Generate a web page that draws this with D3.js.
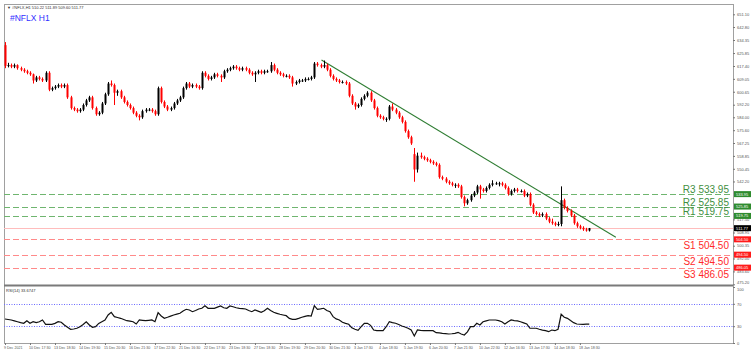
<!DOCTYPE html>
<html><head><meta charset="utf-8">
<script src="https://cdn.jsdelivr.net/npm/d3@7"></script>
<style>body{margin:0;background:#fff}svg{display:block;font-family:"Liberation Sans",Arial,sans-serif}</style>
</head><body><svg id="c" width="755" height="356"></svg>
<script>
const opens=[631,617.5,618,617,618,616,615,614,613,612,608,610,609,608,613,602,603,604,605,604,605,597,590,589,588,589,592,595,597,590,586,587,593,599,606,605,600,601,597,594,592,590,587,585,584,588,589,589,588,586,603,594,591,589,590,593,595,597,603,606,604,605,604,603,613,611,609,610,612,611,610,614,615,616,617,616,615,616,615,613,612,613,614,613,614,614,618,615,613,612,611,611,610,606,607,608,608,609,609,610,619,618,617,618,615,611,609,608,607,607,606,598,593,591,592,596,598,600,595,590,585,584,583,583,591,589,587,584,581,575,571,560,550,559,558,557,556,555,554,553,545,544,542,541,540,540,539,532,528,530,533,535,539,537,536,538,540,541,541,541,540,538,534,536,537,536,536,533,534,527,522,521,520,521,518,516,515,514,514.5,530,525,523,520,515,513,512,511,510.22];
const highs=[633,619.5,619,619,618.5,617,616,615,614,612.5,611,611,610,614,614,604,605,606,606,606,606,598,591,590,590,593,596,598,598,591,588,594,600,607,608,606,602,602,598,595,593,591,588,586,589,590,590,590,589,604,604,595,592,591,594,596,598,604,607,607,606,606,605,614,614,612,611,613,613,612,615,616,617,618,618,617,617,617,616,614,614,615,615,615,615,620,619,616,614,613,612,612,611,608,609,609,610,610,611,620,620,619,621,619,616,612,610,609,608,608,607,599,594,593,597,599,601,601,596,591,586,585,584,592,593,590,588,585,582,576,572,564,561,561,559,558,557,556,555,554,546,545,543,542,541,541,540,533,531,534,536,540,540,538,539,541,543,542,542,542,541,539,537,538,538,537,537,535,535,528,523,522,522,522,519,518,516,516,539,531,526,524,521,516,514,513,512,511.89];
const lows=[616,616.5,616,616,615,614,613,612,611,606,607,608,607,607,601,601,602,603,603,603,596,589,588,587,587,588,591,594,589,585,585,586,592,598,604,592,598,596,593,591,589,586,584,582,583,587,588,587,585,585,593,590,588,588,589,592,594,596,602,603,603,603,602,602,610,608,608,609,610,607,609,613,614,615,615,614,614,614,612,611,607,612,612,612,613,613,614,612,611,610,610,609,604,605,606,607,607,608,608,609,617,616,616,614,610,608,607,606,606,605,597,592,589,590,591,595,597,594,589,584,583,582,581,582,588,586,583,580,574,570,566,542,548,557,556,555,554,553,552,544,543,541,540,539,538,538,531,526,527,529,532,534,531,535,535,537,539,540,539,539,537,533,533,535,535,535,532,532,526,521,520,519,519,517,515,514,513,513,513,524,522,519,514,512,511,510,509.5,509.6];
const closes=[617.5,618,617,618,616,615,614,613,612,608,610,609,608,613,602,603,604,605,604,605,597,590,589,588,589,592,595,597,590,586,587,593,599,606,605,600,601,597,594,592,590,587,585,584,588,589,589,588,586,603,594,591,589,590,593,595,597,603,606,604,605,604,603,613,611,609,610,612,611,610,614,615,616,617,616,615,616,615,613,612,613,614,613,614,614,618,615,613,612,611,611,610,606,607,608,608,609,609,610,619,618,617,618,615,611,609,608,607,607,606,598,593,591,592,596,598,600,595,590,585,584,583,583,591,589,587,584,581,575,571,567,550,559,558,557,556,555,554,553,545,544,542,541,540,540,539,532,528,530,533,535,539,537,536,538,540,541,541,541,540,538,534,536,537,536,536,533,534,527,522,521,520,521,518,516,515,514,514.5,530,525,523,520,515,513,512,511,510.2,511.77];
const rsi=[42.9,42,41.1,39.5,38,36.5,35.2,39.8,35.2,38,36.5,38,41.1,33.4,33.4,33.4,35,38,37,32.1,28,24.5,25,26.3,29.1,33,38,32.1,28,29.1,35,38,41.1,50,54.8,47,45.5,44.1,42,39.8,39,38,33.9,41.1,40.5,39.8,40.5,41.1,38,54.1,48.2,44.1,45.9,48,50,51.5,53,57,60.2,58.9,55.9,58,60.7,62,66.6,62,62,62,64,66.1,63,62,66.1,64.8,63,62,61.5,60.7,58,55.9,58.9,57,54.8,57.7,62,58,54.8,53,51.3,50,48.8,44,42.3,42.3,44,45.9,47.5,48.8,48.2,66.6,60.2,61,62,58,55.9,47,43,41.1,37,35,33.4,27,24.5,22.5,29.1,35.2,35.2,31.5,23.2,22,22,22,29.1,38,36.5,35.2,33,30.4,28.5,26.3,23.2,12.5,23.2,22.5,22,22,22,22,18.4,18,17.3,16.8,16.1,16.5,17.3,19.1,16.1,14.3,20,29.1,29.1,35.2,32.1,38,39.5,41.1,41.1,41.1,40,38,33.9,38,41.1,40,39.5,38,36,33.9,26.3,26.3,26.3,24.5,23,22,20.2,23.2,22,24.5,51.3,45.9,44.1,40,36.3,33.9,33.5,33.4,33.6,33.67];
const priceTicks=[651.10,642.80,634.35,625.85,617.40,609.05,600.65,592.20,584.00,575.60,567.25,558.85,550.45,542.20,517.50,508.95,500.35,492.00,483.60,475.20];
const dateTickIdx=[0,8,16,24,32,40,48,56,64,72,80,88,96,104,112,120,128,136,144,152,160,168,176,184];
const dateLabels=["9 Dec 2021","10 Dec 17:30","13 Dec 18:30","14 Dec 19:30","15 Dec 20:30","16 Dec 21:30","17 Dec 22:30","21 Dec 16:30","22 Dec 17:30","23 Dec 18:30","27 Dec 18:30","28 Dec 19:30","29 Dec 20:30","30 Dec 21:30","3 Jan 17:30","4 Jan 18:30","5 Jan 19:30","6 Jan 20:30","7 Jan 21:30","10 Jan 22:30","12 Jan 16:30","13 Jan 17:30","14 Jan 18:30","18 Jan 18:30"];
const levelNames=["R3","R2","R1","S1","S2","S3"];
const levelValues=[533.95,525.85,519.75,504.50,494.50,486.05];
const rsiLevels=[70,30];
const rsiTicks=[100,70,30,0];
const trendIdx=[101.3,195.5];
const trendPrice=[621.3,505.8];
const lastPrice=511.77;
const header="\u25BC #NFLX,H1  510.22 511.89 509.60 511.77";
const rsiTitle="RSI(14) 33.6747";

const svg=d3.select("#c");
const L=4,R=733,T=4,B=343,SEP=285.5;
const x=d3.scaleLinear().domain([0,233]).range([5,733]);
const y=d3.scaleLinear().domain([475.2,651.1]).range([284.3,14.3]);
const yr=d3.scaleLinear().domain([0,100]).range([343,287]);

svg.append("clipPath").attr("id","cm").append("rect").attr("x",L).attr("y",T).attr("width",R-L).attr("height",SEP-T);

// frame
svg.append("rect").attr("x",L+0.5).attr("y",T+0.5).attr("width",R-L).attr("height",B-T).attr("fill","none").attr("stroke","#a0a0a0");
svg.append("line").attr("x1",L).attr("x2",R).attr("y1",SEP).attr("y2",SEP).attr("stroke","#7a7a7a").attr("stroke-width",2);

const gM=svg.append("g").attr("clip-path","url(#cm)");

// current price line
gM.append("line").attr("x1",L).attr("x2",R).attr("y1",Math.round(y(lastPrice))+0.5).attr("y2",Math.round(y(lastPrice))+0.5).attr("stroke","#ffbcbc");

// levels
levelValues.forEach((v,k)=>{
  const isR=levelNames[k][0]==="R";
  const yy=Math.round(y(v))+0.5;
  gM.append("line").attr("x1",L).attr("x2",R).attr("y1",yy).attr("y2",yy)
    .attr("stroke",isR?"#6fb56f":"#ff8a8a").attr("stroke-dasharray","6,3");
  gM.append("text").attr("x",729).attr("y",isR?yy-1.8:yy+9).attr("text-anchor","end")
    .attr("font-size",10).attr("fill",isR?"#3f8f3f":"#ff2a2a").text(levelNames[k]+" "+v.toFixed(2));
});

// trend line
gM.append("line").attr("x1",x(trendIdx[0])).attr("y1",y(trendPrice[0])).attr("x2",x(trendIdx[1])).attr("y2",y(trendPrice[1]))
  .attr("stroke","#2e7d32").attr("stroke-width",1.1);

// candles
const bars=closes.map((c,i)=>({i,o:opens[i],h:highs[i],l:lows[i],c}));
const cg=gM.append("g");
bars.forEach(d=>{
  const up=d.c>=d.o, col=up?"#000":"#ff0000";
  const cx=Math.round(x(d.i))+0.5;
  cg.append("line").attr("x1",cx).attr("x2",cx).attr("y1",y(d.h)).attr("y2",y(d.l)).attr("stroke",col).attr("stroke-width",1);
  const top=y(Math.max(d.o,d.c)), bot=y(Math.min(d.o,d.c));
  cg.append("rect").attr("x",cx-1).attr("width",2).attr("y",top).attr("height",Math.max(1,bot-top)).attr("fill",col);
});

// title + header
svg.append("text").attr("x",7).attr("y",8.5).attr("font-size",4).attr("fill","#333").text(header);
svg.append("text").attr("x",10).attr("y",21).attr("font-size",8.5).attr("fill","#3030ff").text("#NFLX H1");

// price axis
const ya=d3.axisRight(y).tickValues(priceTicks).tickSize(2).tickPadding(2).tickFormat(d3.format(".2f"));
const gya=svg.append("g").attr("transform",`translate(${R},0)`).call(ya);
gya.select(".domain").remove();
gya.selectAll("text").attr("font-size",4).attr("fill","#555");
gya.selectAll(".tick").filter(d=>d===475.20).select("text").attr("dy","-0.2em");
gya.selectAll("line").attr("stroke","#777");

// level boxes
levelValues.forEach((v,k)=>{
  const isR=levelNames[k][0]==="R";
  const yy=y(v);
  svg.append("rect").attr("x",R+1).attr("y",yy-3).attr("width",17).attr("height",6).attr("fill",isR?"#2e8b2e":"#ff1a1a");
  svg.append("text").attr("x",R+3).attr("y",yy+1.5).attr("font-size",4).attr("fill","#fff").text(v.toFixed(2));
});
svg.append("rect").attr("x",R+1).attr("y",y(lastPrice)-3).attr("width",17).attr("height",6).attr("fill","#000");
svg.append("text").attr("x",R+3).attr("y",y(lastPrice)+1.5).attr("font-size",4).attr("fill","#fff").text(lastPrice.toFixed(2));

// RSI panel
const gR=svg.append("g");
rsiLevels.forEach(v=>{
  gR.append("line").attr("x1",L).attr("x2",R).attr("y1",Math.round(yr(v))+0.5).attr("y2",Math.round(yr(v))+0.5)
    .attr("stroke","#6a6aff").attr("stroke-dasharray","1,1.5");
});
gR.append("path").datum(rsi).attr("fill","none").attr("stroke","#111").attr("stroke-width",1.2)
  .attr("d",d3.line().x((d,i)=>x(i)).y(d=>yr(d)));
svg.append("text").attr("x",6).attr("y",292).attr("font-size",4).attr("fill","#333").text(rsiTitle);
const ra=d3.axisRight(yr).tickValues(rsiTicks).tickSize(2).tickPadding(2).tickFormat(d3.format("d"));
const gra=svg.append("g").attr("transform",`translate(${R},0)`).call(ra);
gra.select(".domain").remove();
gra.selectAll("text").attr("font-size",4).attr("fill","#555");
gra.selectAll(".tick").filter(d=>d===100).select("text").attr("dy","0.9em");
gra.selectAll("line").attr("stroke","#777");

// date axis
const xa=d3.axisBottom(x).tickValues(dateTickIdx).tickSize(2).tickPadding(1.5).tickFormat((d,k)=>dateLabels[k]);
const gxa=svg.append("g").attr("transform",`translate(0,${B})`).call(xa);
gxa.select(".domain").remove();
gxa.selectAll("text").attr("font-size",3.6).attr("fill","#555").attr("text-anchor","start").attr("dx",-1.5);
gxa.selectAll("line").attr("stroke","#777");
</script></body></html>
